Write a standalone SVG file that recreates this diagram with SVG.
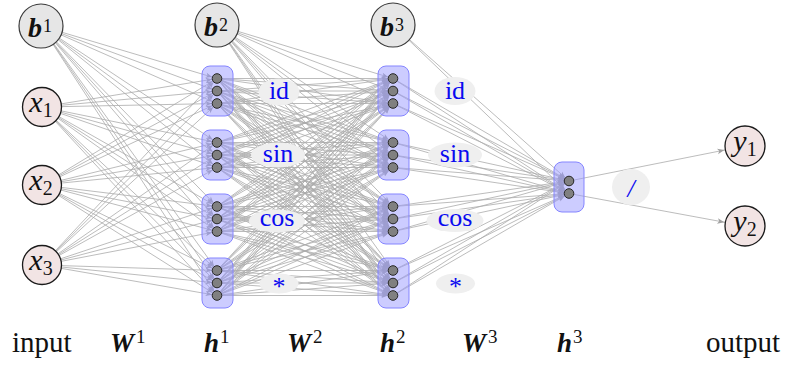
<svg xmlns="http://www.w3.org/2000/svg" width="796" height="367" viewBox="0 0 796 367">
<style>
  .edges line { stroke: #ababab; stroke-width: 0.8; fill: none; marker-end: url(#tip); }
  .edges line.out { marker-end: url(#tip-out); }
  .bias { fill: #e6e6e6; stroke: #3a3a3a; stroke-width: 1.2; }
  .io { fill: #f2e4e4; stroke: #1a1a1a; stroke-width: 1.3; }
  .box { fill: #9999ff; fill-opacity: 0.5; stroke: #8585ff; stroke-width: 1; }
  .unit { fill: #808080; stroke: #262626; stroke-width: 1; }
  .tag { fill: #efefef; stroke: none; }
  .fn { font-family: "Liberation Serif", serif; font-size: 26px; fill: #0a0af0; text-anchor: middle; }
  .math { font-family: "Liberation Serif", serif; fill: #111; }
  .bi { font-weight: bold; font-style: italic; }
  .it { font-style: italic; }
  .cap { font-family: "Liberation Serif", serif; font-size: 29px; fill: #111; }
</style>
<defs>
  <!-- tip stops at the rim of a unit dot (r≈5) -->
  <marker id="tip" markerUnits="userSpaceOnUse" markerWidth="10" markerHeight="10" refX="5" refY="0" orient="auto" overflow="visible">
    <path d="M0,0 L-6.5,-2.6 L-4.8,0 L-6.5,2.6 Z" fill="#a0a0a0"/>
  </marker>
  <!-- tip stops at the rim of an output circle (r≈20) -->
  <marker id="tip-out" markerUnits="userSpaceOnUse" markerWidth="10" markerHeight="10" refX="21" refY="0" orient="auto" overflow="visible">
    <path d="M0,0 L-7,-2.8 L-5.2,0 L-7,2.8 Z" fill="#a0a0a0"/>
  </marker>
</defs>

<g id="connectors" class="edges">
  <!-- W1: inputs and b1 to h1 units -->
  <line x1="41" y1="26" x2="217" y2="78.5"/><line x1="41" y1="26" x2="217" y2="91"/><line x1="41" y1="26" x2="217" y2="103.5"/>
  <line x1="41" y1="26" x2="217" y2="142.5"/><line x1="41" y1="26" x2="217" y2="155"/><line x1="41" y1="26" x2="217" y2="167.5"/>
  <line x1="41" y1="26" x2="217" y2="206.5"/><line x1="41" y1="26" x2="217" y2="219"/><line x1="41" y1="26" x2="217" y2="231.5"/>
  <line x1="41" y1="26" x2="217" y2="270.5"/><line x1="41" y1="26" x2="217" y2="283"/><line x1="41" y1="26" x2="217" y2="295.5"/>

  <line x1="42" y1="107" x2="217" y2="78.5"/><line x1="42" y1="107" x2="217" y2="91"/><line x1="42" y1="107" x2="217" y2="103.5"/>
  <line x1="42" y1="107" x2="217" y2="142.5"/><line x1="42" y1="107" x2="217" y2="155"/><line x1="42" y1="107" x2="217" y2="167.5"/>
  <line x1="42" y1="107" x2="217" y2="206.5"/><line x1="42" y1="107" x2="217" y2="219"/><line x1="42" y1="107" x2="217" y2="231.5"/>
  <line x1="42" y1="107" x2="217" y2="270.5"/><line x1="42" y1="107" x2="217" y2="283"/><line x1="42" y1="107" x2="217" y2="295.5"/>

  <line x1="42" y1="185" x2="217" y2="78.5"/><line x1="42" y1="185" x2="217" y2="91"/><line x1="42" y1="185" x2="217" y2="103.5"/>
  <line x1="42" y1="185" x2="217" y2="142.5"/><line x1="42" y1="185" x2="217" y2="155"/><line x1="42" y1="185" x2="217" y2="167.5"/>
  <line x1="42" y1="185" x2="217" y2="206.5"/><line x1="42" y1="185" x2="217" y2="219"/><line x1="42" y1="185" x2="217" y2="231.5"/>
  <line x1="42" y1="185" x2="217" y2="270.5"/><line x1="42" y1="185" x2="217" y2="283"/><line x1="42" y1="185" x2="217" y2="295.5"/>

  <line x1="42" y1="265" x2="217" y2="78.5"/><line x1="42" y1="265" x2="217" y2="91"/><line x1="42" y1="265" x2="217" y2="103.5"/>
  <line x1="42" y1="265" x2="217" y2="142.5"/><line x1="42" y1="265" x2="217" y2="155"/><line x1="42" y1="265" x2="217" y2="167.5"/>
  <line x1="42" y1="265" x2="217" y2="206.5"/><line x1="42" y1="265" x2="217" y2="219"/><line x1="42" y1="265" x2="217" y2="231.5"/>
  <line x1="42" y1="265" x2="217" y2="270.5"/><line x1="42" y1="265" x2="217" y2="283"/><line x1="42" y1="265" x2="217" y2="295.5"/>

  <!-- W2: b2 and h1 units to h2 units -->
  <line x1="217" y1="25" x2="393" y2="78.5"/><line x1="217" y1="25" x2="393" y2="91"/><line x1="217" y1="25" x2="393" y2="103.5"/>
  <line x1="217" y1="25" x2="393" y2="142.5"/><line x1="217" y1="25" x2="393" y2="155"/><line x1="217" y1="25" x2="393" y2="167.5"/>
  <line x1="217" y1="25" x2="393" y2="206.5"/><line x1="217" y1="25" x2="393" y2="219"/><line x1="217" y1="25" x2="393" y2="231.5"/>
  <line x1="217" y1="25" x2="393" y2="270.5"/><line x1="217" y1="25" x2="393" y2="283"/><line x1="217" y1="25" x2="393" y2="295.5"/>

  <line x1="217" y1="78.5" x2="393" y2="78.5"/><line x1="217" y1="78.5" x2="393" y2="91"/><line x1="217" y1="78.5" x2="393" y2="103.5"/>
  <line x1="217" y1="78.5" x2="393" y2="142.5"/><line x1="217" y1="78.5" x2="393" y2="155"/><line x1="217" y1="78.5" x2="393" y2="167.5"/>
  <line x1="217" y1="78.5" x2="393" y2="206.5"/><line x1="217" y1="78.5" x2="393" y2="219"/><line x1="217" y1="78.5" x2="393" y2="231.5"/>
  <line x1="217" y1="78.5" x2="393" y2="270.5"/><line x1="217" y1="78.5" x2="393" y2="283"/><line x1="217" y1="78.5" x2="393" y2="295.5"/>

  <line x1="217" y1="91" x2="393" y2="78.5"/><line x1="217" y1="91" x2="393" y2="91"/><line x1="217" y1="91" x2="393" y2="103.5"/>
  <line x1="217" y1="91" x2="393" y2="142.5"/><line x1="217" y1="91" x2="393" y2="155"/><line x1="217" y1="91" x2="393" y2="167.5"/>
  <line x1="217" y1="91" x2="393" y2="206.5"/><line x1="217" y1="91" x2="393" y2="219"/><line x1="217" y1="91" x2="393" y2="231.5"/>
  <line x1="217" y1="91" x2="393" y2="270.5"/><line x1="217" y1="91" x2="393" y2="283"/><line x1="217" y1="91" x2="393" y2="295.5"/>

  <line x1="217" y1="103.5" x2="393" y2="78.5"/><line x1="217" y1="103.5" x2="393" y2="91"/><line x1="217" y1="103.5" x2="393" y2="103.5"/>
  <line x1="217" y1="103.5" x2="393" y2="142.5"/><line x1="217" y1="103.5" x2="393" y2="155"/><line x1="217" y1="103.5" x2="393" y2="167.5"/>
  <line x1="217" y1="103.5" x2="393" y2="206.5"/><line x1="217" y1="103.5" x2="393" y2="219"/><line x1="217" y1="103.5" x2="393" y2="231.5"/>
  <line x1="217" y1="103.5" x2="393" y2="270.5"/><line x1="217" y1="103.5" x2="393" y2="283"/><line x1="217" y1="103.5" x2="393" y2="295.5"/>

  <line x1="217" y1="142.5" x2="393" y2="78.5"/><line x1="217" y1="142.5" x2="393" y2="91"/><line x1="217" y1="142.5" x2="393" y2="103.5"/>
  <line x1="217" y1="142.5" x2="393" y2="142.5"/><line x1="217" y1="142.5" x2="393" y2="155"/><line x1="217" y1="142.5" x2="393" y2="167.5"/>
  <line x1="217" y1="142.5" x2="393" y2="206.5"/><line x1="217" y1="142.5" x2="393" y2="219"/><line x1="217" y1="142.5" x2="393" y2="231.5"/>
  <line x1="217" y1="142.5" x2="393" y2="270.5"/><line x1="217" y1="142.5" x2="393" y2="283"/><line x1="217" y1="142.5" x2="393" y2="295.5"/>

  <line x1="217" y1="155" x2="393" y2="78.5"/><line x1="217" y1="155" x2="393" y2="91"/><line x1="217" y1="155" x2="393" y2="103.5"/>
  <line x1="217" y1="155" x2="393" y2="142.5"/><line x1="217" y1="155" x2="393" y2="155"/><line x1="217" y1="155" x2="393" y2="167.5"/>
  <line x1="217" y1="155" x2="393" y2="206.5"/><line x1="217" y1="155" x2="393" y2="219"/><line x1="217" y1="155" x2="393" y2="231.5"/>
  <line x1="217" y1="155" x2="393" y2="270.5"/><line x1="217" y1="155" x2="393" y2="283"/><line x1="217" y1="155" x2="393" y2="295.5"/>

  <line x1="217" y1="167.5" x2="393" y2="78.5"/><line x1="217" y1="167.5" x2="393" y2="91"/><line x1="217" y1="167.5" x2="393" y2="103.5"/>
  <line x1="217" y1="167.5" x2="393" y2="142.5"/><line x1="217" y1="167.5" x2="393" y2="155"/><line x1="217" y1="167.5" x2="393" y2="167.5"/>
  <line x1="217" y1="167.5" x2="393" y2="206.5"/><line x1="217" y1="167.5" x2="393" y2="219"/><line x1="217" y1="167.5" x2="393" y2="231.5"/>
  <line x1="217" y1="167.5" x2="393" y2="270.5"/><line x1="217" y1="167.5" x2="393" y2="283"/><line x1="217" y1="167.5" x2="393" y2="295.5"/>

  <line x1="217" y1="206.5" x2="393" y2="78.5"/><line x1="217" y1="206.5" x2="393" y2="91"/><line x1="217" y1="206.5" x2="393" y2="103.5"/>
  <line x1="217" y1="206.5" x2="393" y2="142.5"/><line x1="217" y1="206.5" x2="393" y2="155"/><line x1="217" y1="206.5" x2="393" y2="167.5"/>
  <line x1="217" y1="206.5" x2="393" y2="206.5"/><line x1="217" y1="206.5" x2="393" y2="219"/><line x1="217" y1="206.5" x2="393" y2="231.5"/>
  <line x1="217" y1="206.5" x2="393" y2="270.5"/><line x1="217" y1="206.5" x2="393" y2="283"/><line x1="217" y1="206.5" x2="393" y2="295.5"/>

  <line x1="217" y1="219" x2="393" y2="78.5"/><line x1="217" y1="219" x2="393" y2="91"/><line x1="217" y1="219" x2="393" y2="103.5"/>
  <line x1="217" y1="219" x2="393" y2="142.5"/><line x1="217" y1="219" x2="393" y2="155"/><line x1="217" y1="219" x2="393" y2="167.5"/>
  <line x1="217" y1="219" x2="393" y2="206.5"/><line x1="217" y1="219" x2="393" y2="219"/><line x1="217" y1="219" x2="393" y2="231.5"/>
  <line x1="217" y1="219" x2="393" y2="270.5"/><line x1="217" y1="219" x2="393" y2="283"/><line x1="217" y1="219" x2="393" y2="295.5"/>

  <line x1="217" y1="231.5" x2="393" y2="78.5"/><line x1="217" y1="231.5" x2="393" y2="91"/><line x1="217" y1="231.5" x2="393" y2="103.5"/>
  <line x1="217" y1="231.5" x2="393" y2="142.5"/><line x1="217" y1="231.5" x2="393" y2="155"/><line x1="217" y1="231.5" x2="393" y2="167.5"/>
  <line x1="217" y1="231.5" x2="393" y2="206.5"/><line x1="217" y1="231.5" x2="393" y2="219"/><line x1="217" y1="231.5" x2="393" y2="231.5"/>
  <line x1="217" y1="231.5" x2="393" y2="270.5"/><line x1="217" y1="231.5" x2="393" y2="283"/><line x1="217" y1="231.5" x2="393" y2="295.5"/>

  <line x1="217" y1="270.5" x2="393" y2="78.5"/><line x1="217" y1="270.5" x2="393" y2="91"/><line x1="217" y1="270.5" x2="393" y2="103.5"/>
  <line x1="217" y1="270.5" x2="393" y2="142.5"/><line x1="217" y1="270.5" x2="393" y2="155"/><line x1="217" y1="270.5" x2="393" y2="167.5"/>
  <line x1="217" y1="270.5" x2="393" y2="206.5"/><line x1="217" y1="270.5" x2="393" y2="219"/><line x1="217" y1="270.5" x2="393" y2="231.5"/>
  <line x1="217" y1="270.5" x2="393" y2="270.5"/><line x1="217" y1="270.5" x2="393" y2="283"/><line x1="217" y1="270.5" x2="393" y2="295.5"/>

  <line x1="217" y1="283" x2="393" y2="78.5"/><line x1="217" y1="283" x2="393" y2="91"/><line x1="217" y1="283" x2="393" y2="103.5"/>
  <line x1="217" y1="283" x2="393" y2="142.5"/><line x1="217" y1="283" x2="393" y2="155"/><line x1="217" y1="283" x2="393" y2="167.5"/>
  <line x1="217" y1="283" x2="393" y2="206.5"/><line x1="217" y1="283" x2="393" y2="219"/><line x1="217" y1="283" x2="393" y2="231.5"/>
  <line x1="217" y1="283" x2="393" y2="270.5"/><line x1="217" y1="283" x2="393" y2="283"/><line x1="217" y1="283" x2="393" y2="295.5"/>

  <line x1="217" y1="295.5" x2="393" y2="78.5"/><line x1="217" y1="295.5" x2="393" y2="91"/><line x1="217" y1="295.5" x2="393" y2="103.5"/>
  <line x1="217" y1="295.5" x2="393" y2="142.5"/><line x1="217" y1="295.5" x2="393" y2="155"/><line x1="217" y1="295.5" x2="393" y2="167.5"/>
  <line x1="217" y1="295.5" x2="393" y2="206.5"/><line x1="217" y1="295.5" x2="393" y2="219"/><line x1="217" y1="295.5" x2="393" y2="231.5"/>
  <line x1="217" y1="295.5" x2="393" y2="270.5"/><line x1="217" y1="295.5" x2="393" y2="283"/><line x1="217" y1="295.5" x2="393" y2="295.5"/>

  <!-- W3: b3 and h2 units to h3 units -->
  <line x1="393" y1="25" x2="569" y2="181"/><line x1="393" y1="25" x2="569" y2="193.5"/>
  <line x1="393" y1="78.5" x2="569" y2="181"/><line x1="393" y1="78.5" x2="569" y2="193.5"/>
  <line x1="393" y1="91" x2="569" y2="181"/><line x1="393" y1="91" x2="569" y2="193.5"/>
  <line x1="393" y1="103.5" x2="569" y2="181"/><line x1="393" y1="103.5" x2="569" y2="193.5"/>
  <line x1="393" y1="142.5" x2="569" y2="181"/><line x1="393" y1="142.5" x2="569" y2="193.5"/>
  <line x1="393" y1="155" x2="569" y2="181"/><line x1="393" y1="155" x2="569" y2="193.5"/>
  <line x1="393" y1="167.5" x2="569" y2="181"/><line x1="393" y1="167.5" x2="569" y2="193.5"/>
  <line x1="393" y1="206.5" x2="569" y2="181"/><line x1="393" y1="206.5" x2="569" y2="193.5"/>
  <line x1="393" y1="219" x2="569" y2="181"/><line x1="393" y1="219" x2="569" y2="193.5"/>
  <line x1="393" y1="231.5" x2="569" y2="181"/><line x1="393" y1="231.5" x2="569" y2="193.5"/>
  <line x1="393" y1="270.5" x2="569" y2="181"/><line x1="393" y1="270.5" x2="569" y2="193.5"/>
  <line x1="393" y1="283" x2="569" y2="181"/><line x1="393" y1="283" x2="569" y2="193.5"/>
  <line x1="393" y1="295.5" x2="569" y2="181"/><line x1="393" y1="295.5" x2="569" y2="193.5"/>

  <!-- h3 to outputs -->
  <line class="out" x1="569" y1="181" x2="745" y2="146"/>
  <line class="out" x1="569" y1="193.5" x2="745" y2="226"/>
</g>

<!-- input column -->
<g id="b1"><circle class="bias" cx="41" cy="26" r="22"/>
  <text class="math" x="40" y="37" text-anchor="middle"><tspan class="bi" font-size="28">b</tspan><tspan font-size="18" dx="1" dy="-5">1</tspan></text></g>
<g id="x1"><circle class="io" cx="42" cy="107" r="19.5"/>
  <text class="math" x="41" y="112" text-anchor="middle"><tspan class="it" font-size="30">x</tspan><tspan font-size="20" dy="5">1</tspan></text></g>
<g id="x2"><circle class="io" cx="42" cy="185" r="19.5"/>
  <text class="math" x="41" y="190" text-anchor="middle"><tspan class="it" font-size="30">x</tspan><tspan font-size="20" dy="5">2</tspan></text></g>
<g id="x3"><circle class="io" cx="42" cy="265" r="19.5"/>
  <text class="math" x="41" y="270" text-anchor="middle"><tspan class="it" font-size="30">x</tspan><tspan font-size="20" dy="5">3</tspan></text></g>

<!-- hidden layer h1 -->
<g id="b2"><circle class="bias" cx="217" cy="25" r="22"/>
  <text class="math" x="216" y="36" text-anchor="middle"><tspan class="bi" font-size="28">b</tspan><tspan font-size="18" dx="1" dy="-5">2</tspan></text></g>
<g id="h1-id"><rect class="box" x="202" y="66" width="31" height="50" rx="8"/>
  <circle class="unit" cx="217" cy="78.5" r="4.8"/><circle class="unit" cx="217" cy="91" r="4.8"/><circle class="unit" cx="217" cy="103.5" r="4.8"/></g>
<g id="h1-sin"><rect class="box" x="202" y="130" width="31" height="50" rx="8"/>
  <circle class="unit" cx="217" cy="142.5" r="4.8"/><circle class="unit" cx="217" cy="155" r="4.8"/><circle class="unit" cx="217" cy="167.5" r="4.8"/></g>
<g id="h1-cos"><rect class="box" x="202" y="194" width="31" height="50" rx="8"/>
  <circle class="unit" cx="217" cy="206.5" r="4.8"/><circle class="unit" cx="217" cy="219" r="4.8"/><circle class="unit" cx="217" cy="231.5" r="4.8"/></g>
<g id="h1-mul"><rect class="box" x="202" y="258" width="31" height="50" rx="8"/>
  <circle class="unit" cx="217" cy="270.5" r="4.8"/><circle class="unit" cx="217" cy="283" r="4.8"/><circle class="unit" cx="217" cy="295.5" r="4.8"/></g>

<!-- activation tags after h1 -->
<g id="f1-id"><ellipse class="tag" cx="279" cy="92" rx="20.5" ry="13.5"/><text class="fn" x="279" y="99">id</text></g>
<g id="f1-sin"><ellipse class="tag" cx="278" cy="155" rx="27" ry="12.5"/><text class="fn" x="278" y="162">sin</text></g>
<g id="f1-cos"><ellipse class="tag" cx="277" cy="221" rx="28" ry="11.5"/><text class="fn" x="277" y="226">cos</text></g>
<g id="f1-mul"><ellipse class="tag" cx="279" cy="283.5" rx="19.5" ry="10"/><text class="fn" x="279" y="295">*</text></g>

<!-- hidden layer h2 -->
<g id="b3"><circle class="bias" cx="393" cy="25" r="22"/>
  <text class="math" x="392" y="36" text-anchor="middle"><tspan class="bi" font-size="28">b</tspan><tspan font-size="18" dx="1" dy="-5">3</tspan></text></g>
<g id="h2-id"><rect class="box" x="378" y="66" width="31" height="50" rx="8"/>
  <circle class="unit" cx="393" cy="78.5" r="4.8"/><circle class="unit" cx="393" cy="91" r="4.8"/><circle class="unit" cx="393" cy="103.5" r="4.8"/></g>
<g id="h2-sin"><rect class="box" x="378" y="130" width="31" height="50" rx="8"/>
  <circle class="unit" cx="393" cy="142.5" r="4.8"/><circle class="unit" cx="393" cy="155" r="4.8"/><circle class="unit" cx="393" cy="167.5" r="4.8"/></g>
<g id="h2-cos"><rect class="box" x="378" y="194" width="31" height="50" rx="8"/>
  <circle class="unit" cx="393" cy="206.5" r="4.8"/><circle class="unit" cx="393" cy="219" r="4.8"/><circle class="unit" cx="393" cy="231.5" r="4.8"/></g>
<g id="h2-mul"><rect class="box" x="378" y="258" width="31" height="50" rx="8"/>
  <circle class="unit" cx="393" cy="270.5" r="4.8"/><circle class="unit" cx="393" cy="283" r="4.8"/><circle class="unit" cx="393" cy="295.5" r="4.8"/></g>

<!-- activation tags after h2 -->
<g id="f2-id"><ellipse class="tag" cx="455" cy="91" rx="20.5" ry="14"/><text class="fn" x="455" y="99">id</text></g>
<g id="f2-sin"><ellipse class="tag" cx="455" cy="155" rx="27" ry="12.5"/><text class="fn" x="455" y="162">sin</text></g>
<g id="f2-cos"><ellipse class="tag" cx="455" cy="220.5" rx="28.5" ry="11.5"/><text class="fn" x="455" y="226">cos</text></g>
<g id="f2-mul"><ellipse class="tag" cx="455.5" cy="283.5" rx="19.5" ry="10"/><text class="fn" x="455.5" y="295">*</text></g>

<!-- hidden layer h3 and division -->
<g id="h3"><rect class="box" x="554" y="162" width="30" height="50" rx="8"/>
  <circle class="unit" cx="569" cy="181" r="4.8"/><circle class="unit" cx="569" cy="193.5" r="4.8"/></g>
<g id="f3-div"><ellipse class="tag" cx="631" cy="187" rx="19" ry="18"/><text class="fn it" x="631" y="197" font-size="30">/</text></g>

<!-- outputs -->
<g id="y1"><circle class="io" cx="745" cy="146" r="20"/>
  <text class="math" x="745" y="151" text-anchor="middle"><tspan class="it" font-size="30">y</tspan><tspan font-size="20" dy="5">1</tspan></text></g>
<g id="y2"><circle class="io" cx="745" cy="226" r="20"/>
  <text class="math" x="745" y="231" text-anchor="middle"><tspan class="it" font-size="30">y</tspan><tspan font-size="20" dy="5">2</tspan></text></g>

<!-- column captions -->
<g id="captions">
  <text class="cap" x="12" y="352">input</text>
  <text class="cap" x="110" y="352"><tspan class="bi" font-size="27">W</tspan><tspan font-size="19" dx="2" dy="-9">1</tspan></text>
  <text class="cap" x="204" y="352"><tspan class="bi" font-size="27">h</tspan><tspan font-size="19" dx="1" dy="-9">1</tspan></text>
  <text class="cap" x="287" y="352"><tspan class="bi" font-size="27">W</tspan><tspan font-size="19" dx="2" dy="-9">2</tspan></text>
  <text class="cap" x="380" y="352"><tspan class="bi" font-size="27">h</tspan><tspan font-size="19" dx="1" dy="-9">2</tspan></text>
  <text class="cap" x="462" y="352"><tspan class="bi" font-size="27">W</tspan><tspan font-size="19" dx="2" dy="-9">3</tspan></text>
  <text class="cap" x="557" y="352"><tspan class="bi" font-size="27">h</tspan><tspan font-size="19" dx="1" dy="-9">3</tspan></text>
  <text class="cap" x="706" y="352">output</text>
</g>
</svg>
